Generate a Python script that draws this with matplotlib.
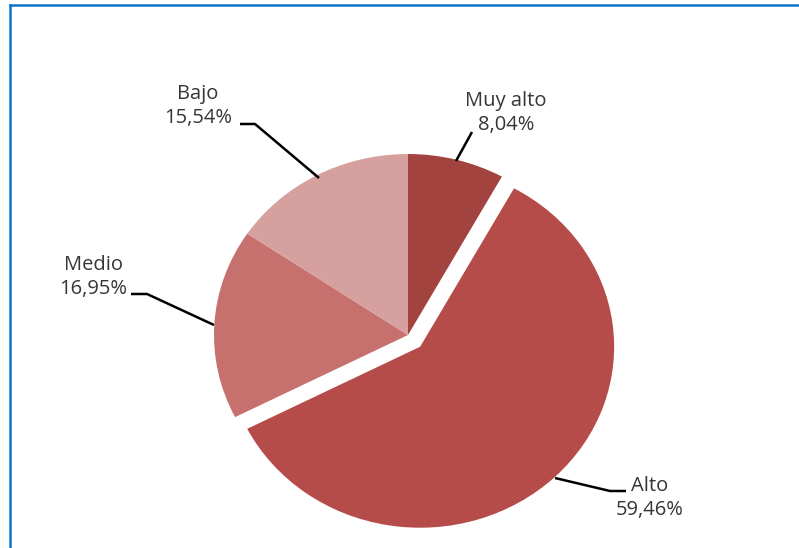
"""Pie chart of risk levels with an exploded 'Alto' slice."""

import matplotlib

matplotlib.use("Agg")

import matplotlib.pyplot as plt
from matplotlib.lines import Line2D

# Data
categories = ["Muy alto", "Alto", "Medio", "Bajo"]
shares = [8.04, 59.46, 16.95, 15.54]
share_labels = ["8,04%", "59,46%", "16,95%", "15,54%"]
explode = [0.0, 0.09, 0.0, 0.0]

_SLICE_COLORS = ["#a3433f", "#b54c49", "#c6716e", "#d6a09e"]
_INK = "#363636"
_BORDER = "#0e72c6"

W, H = 799, 548
# pixel geometry of the pie in the reference (slightly squashed vertically)
CX, CY = 408, 335
RX, RY = 194, 181


def px(x, y):
    """Pixel (from top-left) to data coordinates of the full-figure axes."""
    return (x - CX) / RX, (H - y - (H - CY)) / RY


fig = plt.figure(figsize=(W / 100, H / 100), dpi=100, facecolor="white")
ax = fig.add_axes([0, 0, 1, 1])
ax.pie(
    shares, explode=explode, colors=_SLICE_COLORS, startangle=90,
    counterclock=False, radius=1.0, wedgeprops={"linewidth": 0},
)
ax.set_aspect("auto")
x0, y0 = px(0, H)
x1, y1 = px(W, 0)
ax.set_xlim(x0, x1)
ax.set_ylim(y0, y1)
ax.axis("off")

font = dict(family=["Open Sans", "DejaVu Sans"], fontsize=14.5, color=_INK,
            ha="center", va="center", linespacing=1.28)

# label text centres and leader polylines (pixel space)
label_pos = {
    "Muy alto": (506, 113),
    "Alto": (650, 498),
    "Medio": (93, 277),
    "Bajo": (198, 106),
}
leaders = {
    "Muy alto": [(456, 161), (472, 132)],
    "Alto": [(555, 478), (610, 491), (626, 491)],
    "Medio": [(131, 294), (147, 294), (214, 325)],
    "Bajo": [(240, 124), (255, 124), (319, 178)],
}

for name, text in zip(categories, share_labels):
    lx, ly = px(*label_pos[name])
    ax.text(lx, ly, f"{name}\n{text}", **font)
    pts = [px(*p) for p in leaders[name]]
    ax.plot([p[0] for p in pts], [p[1] for p in pts], color="black",
            linewidth=1.8, solid_capstyle="butt")

# chart frame: only the top and left edges are visible in the crop
fig.add_artist(Line2D([9.5 / W, 1], [1 - 5.3 / H, 1 - 5.3 / H],
                      transform=fig.transFigure, color=_BORDER, linewidth=1.8))
fig.add_artist(Line2D([10 / W, 10 / W], [0, 1 - 4.5 / H],
                      transform=fig.transFigure, color=_BORDER, linewidth=1.8))

fig.savefig("out.png", dpi=100, facecolor="white")
